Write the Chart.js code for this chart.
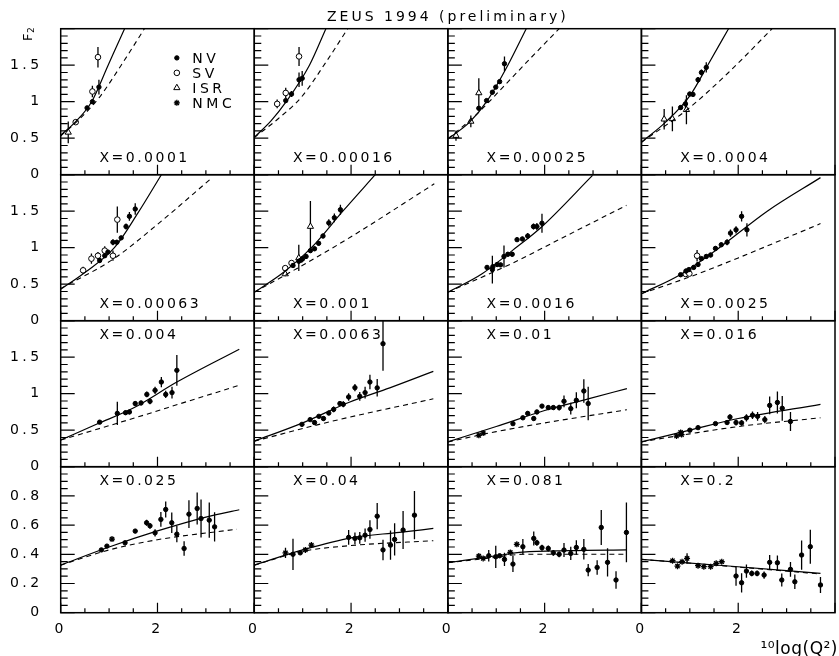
<!DOCTYPE html>
<html>
<head>
<meta charset="utf-8">
<script src="https://cdn.jsdelivr.net/npm/chart.js@4.4.1/dist/chart.umd.min.js"></script>
<style>
  html, body { margin: 0; padding: 0; background: #fff; overflow: hidden; }
  #wrap { position: relative; width: 843px; height: 656px; }
</style>
</head>
<body>
<div id="wrap"><canvas id="f2"></canvas></div>
<script>
const FONT = '"DejaVu Sans", sans-serif';

// one entry per panel, row by row (4 x 4)
const binLabels = ['X=0.0001', 'X=0.00016', 'X=0.00025', 'X=0.0004',
  'X=0.00063', 'X=0.001', 'X=0.0016', 'X=0.0025',
  'X=0.004', 'X=0.0063', 'X=0.01', 'X=0.016',
  'X=0.025', 'X=0.04', 'X=0.081', 'X=0.2'];

const rowMax = [2, 2, 2, 1];
const rowStep = [0.5, 0.5, 0.5, 0.2];
const rowMinor = [0.1, 0.1, 0.1, 0.05];
const legendNames = ['NV', 'SV', 'ISR', 'NMC'];

// points: [log10 Q2, F2, error]
const nvPoints = [
  [[0.545, 0.915, 0.03], [0.655, 1.0, 0.03], [0.79, 1.2, 0.1]],
  [[0.65, 1.015, 0.03], [0.77, 1.105, 0.04], [0.925, 1.30, 0.1], [0.99, 1.32, 0.1]],
  [[0.64, 0.91, 0.03], [0.80, 1.015, 0.03], [0.92, 1.13, 0.03], [0.99, 1.2, 0.03], [1.07, 1.275, 0.03], [1.17, 1.52, 0.1]],
  [[0.81, 0.92, 0.03], [0.91, 0.97, 0.06], [0.998, 1.105, 0.03], [1.065, 1.10, 0.03], [1.17, 1.30, 0.04], [1.24, 1.40, 0.04], [1.34, 1.47, 0.07]],
  [[0.805, 0.825, 0.03], [0.91, 0.89, 0.03], [0.976, 0.94, 0.03], [1.08, 1.075, 0.04], [1.16, 1.075, 0.03], [1.25, 1.135, 0.03], [1.35, 1.29, 0.04], [1.42, 1.43, 0.06], [1.54, 1.53, 0.08]],
  [[0.8, 0.756, 0.03], [0.92, 0.815, 0.03], [0.97, 0.83, 0.03], [1.0, 0.85, 0.03], [1.07, 0.88, 0.03], [1.16, 0.96, 0.03], [1.245, 0.985, 0.03], [1.33, 1.06, 0.03], [1.42, 1.16, 0.03], [1.54, 1.34, 0.05], [1.655, 1.41, 0.06], [1.78, 1.52, 0.07]],
  [[0.81, 0.73, 0.03], [0.92, 0.70, 0.19], [0.93, 0.74, 0.03], [1.02, 0.77, 0.03], [1.09, 0.765, 0.03], [1.16, 0.88, 0.15], [1.24, 0.91, 0.03], [1.33, 0.91, 0.03], [1.43, 1.11, 0.03], [1.54, 1.12, 0.03], [1.65, 1.16, 0.04], [1.77, 1.29, 0.04], [1.84, 1.29, 0.05], [1.945, 1.335, 0.13]],
  [[0.81, 0.63, 0.02], [0.92, 0.68, 0.03], [0.98, 0.70, 0.03], [1.08, 0.73, 0.03], [1.17, 0.77, 0.03], [1.24, 0.85, 0.03], [1.34, 0.88, 0.03], [1.43, 0.90, 0.03], [1.53, 0.99, 0.03], [1.65, 1.04, 0.03], [1.77, 1.075, 0.04], [1.84, 1.20, 0.05], [1.955, 1.245, 0.05], [2.07, 1.43, 0.07], [2.18, 1.245, 0.09]],
  [[0.805, 0.61, 0.02], [1.17, 0.73, 0.16], [1.34, 0.74, 0.03], [1.42, 0.75, 0.03], [1.54, 0.865, 0.03], [1.66, 0.873, 0.03], [1.78, 0.99, 0.04], [1.845, 0.896, 0.04], [1.95, 1.046, 0.05], [2.08, 1.16, 0.07], [2.17, 0.99, 0.05], [2.3, 1.015, 0.08], [2.4, 1.32, 0.21]],
  [[0.985, 0.58, 0.02], [1.155, 0.645, 0.02], [1.245, 0.605, 0.03], [1.335, 0.69, 0.02], [1.43, 0.66, 0.03], [1.54, 0.735, 0.03], [1.64, 0.785, 0.04], [1.77, 0.865, 0.03], [1.84, 0.855, 0.04], [1.95, 0.955, 0.05], [2.08, 1.083, 0.05], [2.18, 0.964, 0.06], [2.29, 1.015, 0.08], [2.39, 1.16, 0.1], [2.54, 1.08, 0.12], [2.66, 1.685, 0.37]],
  [[1.345, 0.59, 0.02], [1.55, 0.67, 0.02], [1.65, 0.73, 0.03], [1.775, 0.66, 0.03], [1.84, 0.75, 0.03], [1.945, 0.83, 0.03], [2.075, 0.81, 0.03], [2.18, 0.81, 0.03], [2.3, 0.81, 0.04], [2.4, 0.896, 0.08], [2.54, 0.796, 0.08], [2.655, 0.91, 0.11], [2.81, 1.037, 0.16], [2.9, 0.865, 0.23]],
  [[1.0, 0.5, 0.02], [1.17, 0.535, 0.02], [1.53, 0.59, 0.02], [1.77, 0.605, 0.03], [1.83, 0.68, 0.04], [1.955, 0.605, 0.04], [2.07, 0.6, 0.04], [2.17, 0.67, 0.05], [2.295, 0.705, 0.05], [2.4, 0.69, 0.06], [2.55, 0.645, 0.05], [2.65, 0.84, 0.12], [2.81, 0.88, 0.15], [2.91, 0.8, 0.17], [3.08, 0.62, 0.13]],
  [[0.84, 0.43, 0.01], [0.955, 0.456, 0.01], [1.33, 0.479, 0.01], [1.54, 0.559, 0.015], [1.775, 0.616, 0.02], [1.845, 0.595, 0.02], [1.95, 0.547, 0.025], [2.07, 0.639, 0.05], [2.17, 0.707, 0.055], [2.295, 0.616, 0.07], [2.4, 0.538, 0.055], [2.55, 0.44, 0.05], [2.65, 0.675, 0.095], [2.82, 0.714, 0.11], [2.9, 0.645, 0.13], [3.07, 0.634, 0.12], [3.18, 0.588, 0.1]],
  [[0.8, 0.4, 0.107], [0.95, 0.41, 0.01], [1.95, 0.516, 0.05], [2.08, 0.509, 0.04], [2.18, 0.513, 0.04], [2.29, 0.531, 0.045], [2.39, 0.57, 0.063], [2.54, 0.661, 0.09], [2.66, 0.43, 0.07], [2.815, 0.463, 0.1], [2.9, 0.502, 0.11], [3.075, 0.566, 0.13], [3.31, 0.668, 0.165]],
  [[0.845, 0.39, 0.04], [0.99, 0.383, 0.076], [1.07, 0.39, 0.01], [1.17, 0.365, 0.045], [1.345, 0.333, 0.055], [1.55, 0.452, 0.053], [1.775, 0.509, 0.048], [1.84, 0.479, 0.02], [1.945, 0.445, 0.02], [2.075, 0.44, 0.02], [2.18, 0.41, 0.02], [2.3, 0.40, 0.02], [2.4, 0.429, 0.048], [2.54, 0.406, 0.045], [2.655, 0.447, 0.05], [2.81, 0.434, 0.07], [2.9, 0.292, 0.042], [3.085, 0.31, 0.05], [3.17, 0.584, 0.12], [3.3, 0.345, 0.097], [3.475, 0.224, 0.06], [3.69, 0.55, 0.205]],
  [[1.955, 0.251, 0.066], [2.07, 0.205, 0.066], [2.17, 0.285, 0.045], [2.28, 0.269, 0.02], [2.39, 0.269, 0.02], [2.535, 0.258, 0.025], [2.65, 0.345, 0.05], [2.81, 0.342, 0.05], [2.9, 0.224, 0.045], [3.08, 0.297, 0.05], [3.17, 0.212, 0.05], [3.31, 0.395, 0.1], [3.49, 0.452, 0.117], [3.7, 0.19, 0.055]]
];

const svPoints = [
  [[0.31, 0.72, 0.04], [0.655, 1.14, 0.08], [0.77, 1.61, 0.14]],
  [[0.473, 0.97, 0.06], [0.65, 1.12, 0.07], [0.925, 1.62, 0.13]],
  [], [],
  [[0.463, 0.69, 0.05], [0.635, 0.85, 0.07], [0.77, 0.89, 0.05], [0.91, 0.96, 0.06], [1.08, 0.89, 0.07], [1.17, 1.385, 0.18]],
  [[0.64, 0.72, 0.03], [0.77, 0.79, 0.03]],
  [],
  [[0.915, 0.64, 0.03], [0.99, 0.645, 0.03], [1.15, 0.89, 0.08]],
  [], [], [], [], [], [], [], []
];

const isrPoints = [
  [[0.156, 0.58, 0.15]],
  [],
  [[0.168, 0.536, 0.07], [0.475, 0.73, 0.08], [0.64, 1.12, 0.2]],
  [[0.47, 0.76, 0.14], [0.64, 0.765, 0.17], [0.93, 0.89, 0.2]],
  [],
  [[0.64, 0.64, 0.03], [0.92, 0.86, 0.18], [1.16, 1.29, 0.35]],
  [], [], [], [], [], [], [], [], [], []
];

const nmcPoints = [
  [], [], [], [], [], [], [], [], [], [],
  [[0.64, 0.43, 0.02], [0.73, 0.46, 0.02]],
  [[0.725, 0.42, 0.02], [0.81, 0.47, 0.02], [0.83, 0.44, 0.02]],
  [[1.06, 0.504, 0.01]],
  [[0.645, 0.41, 0.035], [1.055, 0.43, 0.01], [1.18, 0.463, 0.01]],
  [[0.64, 0.388, 0.01], [0.73, 0.372, 0.01], [1.29, 0.413, 0.01], [1.425, 0.468, 0.01]],
  [[0.643, 0.356, 0.01], [0.745, 0.319, 0.01], [0.84, 0.349, 0.01], [0.943, 0.372, 0.035], [1.17, 0.322, 0.01], [1.29, 0.315, 0.01], [1.43, 0.315, 0.01], [1.545, 0.338, 0.01], [1.66, 0.349, 0.01]]
];

// QCD fit curves: [log10 Q2, F2]
const solidCurves = [
  [[0, 0.54], [0.3, 0.72], [0.64, 1.0], [0.98, 1.5], [1.32, 2.0]],
  [[0, 0.51], [0.35, 0.74], [0.66, 1.0], [1.14, 1.5], [1.48, 2.0]],
  [[0, 0.49], [0.45, 0.72], [0.8, 1.0], [1.24, 1.5], [1.62, 2.0]],
  [[0, 0.445], [0.5, 0.72], [1.0, 1.08], [1.37, 1.5], [1.8, 2.0]],
  [[0, 0.43], [0.5, 0.66], [1.11, 1.0], [1.6, 1.48], [2.08, 2.0]],
  [[0, 0.39], [0.6, 0.66], [1.18, 1.0], [1.83, 1.5], [2.5, 2.0]],
  [[0, 0.39], [0.7, 0.64], [1.33, 0.96], [1.93, 1.28], [2.99, 1.99]],
  [[0, 0.37], [0.8, 0.63], [1.61, 1.0], [2.6, 1.5], [3.7, 1.96]],
  [[0, 0.365], [0.75, 0.585], [1.49, 0.8], [2.4, 1.16], [3.69, 1.61]],
  [[0, 0.35], [1.0, 0.6], [1.95, 0.88], [2.8, 1.08], [3.7, 1.306]],
  [[0, 0.34], [1.0, 0.55], [2.0, 0.77], [2.9, 0.93], [3.7, 1.07]],
  [[0, 0.34], [1.0, 0.5], [2.0, 0.66], [3.7, 0.855]],
  [[0, 0.326], [1.0, 0.45], [2.0, 0.56], [3.0, 0.655], [3.69, 0.705]],
  [[0, 0.326], [1.0, 0.43], [2.0, 0.513], [3.0, 0.55], [3.7, 0.577]],
  [[0, 0.342], [1.0, 0.39], [1.55, 0.415], [2.5, 0.425], [3.7, 0.43]],
  [[0, 0.365], [1.8, 0.32], [3.7, 0.27]]
];

const dashedCurves = [
  [[0, 0.53], [0.4, 0.77], [0.8, 1.06], [1.25, 1.5], [1.73, 2.0]],
  [[0, 0.51], [0.5, 0.77], [0.97, 1.06], [1.5, 1.56], [1.93, 2.0]],
  [[0, 0.49], [0.6, 0.83], [1.14, 1.2], [1.7, 1.59], [2.3, 2.0]],
  [[0, 0.445], [0.96, 0.9], [1.8, 1.4], [2.7, 2.0]],
  [[0, 0.44], [1.1, 0.85], [2.0, 1.32], [3.13, 1.96]],
  [[0, 0.39], [1.0, 0.76], [2.0, 1.15], [3.72, 1.875]],
  [[0, 0.39], [1.34, 0.79], [2.5, 1.18], [3.69, 1.58]],
  [[0, 0.37], [1.0, 0.6], [2.0, 0.86], [3.7, 1.33]],
  [[0, 0.365], [1.49, 0.66], [2.6, 0.89], [3.69, 1.115]],
  [[0, 0.35], [1.59, 0.62], [3.7, 0.93]],
  [[0, 0.34], [1.0, 0.48], [2.0, 0.6], [3.7, 0.78]],
  [[0, 0.34], [1.0, 0.45], [2.0, 0.55], [3.7, 0.67]],
  [[0, 0.326], [1.0, 0.43], [2.0, 0.5], [3.64, 0.572]],
  [[0, 0.326], [1.0, 0.42], [2.0, 0.46], [3.7, 0.493]],
  [[0, 0.342], [1.0, 0.38], [1.55, 0.4], [2.5, 0.4], [3.7, 0.4]],
  [[0, 0.365], [1.8, 0.318], [3.7, 0.265]]
];

const markerStyle = {
  NV: {pointStyle: 'circle', radius: 2.2, fill: '#000'},
  SV: {pointStyle: 'circle', radius: 2.8, fill: '#fff'},
  ISR: {pointStyle: 'triangle', radius: 3.6, fill: '#fff'},
  NMC: {pointStyle: 'star', radius: 3, fill: '#000'}
};

const datasets = [];
for (let p = 0; p < 16; p++) {
  const r = Math.floor(p / 4), c = p % 4;
  const ids = {xAxisID: 'x' + c, yAxisID: 'y' + r};
  datasets.push({...ids, data: solidCurves[p].map(([x, y]) => ({x, y})), showLine: true, pointRadius: 0,
    borderColor: '#000', borderWidth: 1.2, cubicInterpolationMode: 'monotone'});
  datasets.push({...ids, data: dashedCurves[p].map(([x, y]) => ({x, y})), showLine: true, pointRadius: 0,
    borderColor: '#000', borderWidth: 1.1, borderDash: [5, 4], cubicInterpolationMode: 'monotone'});
  [['NV', nvPoints], ['SV', svPoints], ['ISR', isrPoints], ['NMC', nmcPoints]].forEach(([name, arr]) => {
    const pts = arr[p];
    if (!pts.length) return;
    const st = markerStyle[name];
    datasets.push({...ids, label: name, errorBars: true, showLine: false,
      data: pts.map(([x, y, e]) => ({x, y, e})),
      pointStyle: st.pointStyle, pointRadius: st.radius, pointBackgroundColor: st.fill,
      pointBorderColor: '#000', pointBorderWidth: name === 'NMC' ? 1.3 : 1});
  });
}

const tickFont = {family: FONT, size: 14};
const scales = {};
for (let c = 0; c < 4; c++) {
  scales['x' + c] = {
    type: 'linear', axis: 'x', position: 'bottom', stack: 'cols', stackWeight: 1,
    min: 0, max: 4,
    grid: {display: false, drawTicks: false}, border: {display: false},
    ticks: {stepSize: 2, autoSkip: false, maxRotation: 0, padding: 8, color: '#000', font: tickFont,
      callback: v => (v < 4 ? String(v) : '')},
    afterFit: s => { s.height = 43.3; }
  };
}
for (let r = 0; r < 4; r++) {
  scales['y' + r] = {
    type: 'linear', axis: 'y', position: 'left', stack: 'rows', stackWeight: 1, weight: 4 - r,
    min: 0, max: rowMax[r],
    grid: {display: false, drawTicks: false}, border: {display: false},
    ticks: {stepSize: rowStep[r], autoSkip: false, padding: 18, color: '#000', font: tickFont,
      callback: v => (v < rowMax[r] - 1e-9 ? String(+v.toFixed(1)) : '')},
    afterFit: s => { s.width = 60.7; }
  };
}

// clip each panel's datasets to its own box, and draw error bars under the markers
const panelClip = {
  id: 'panelClip',
  beforeDatasetDraw(chart, args) {
    const ctx = chart.ctx, xs = args.meta.xScale, ys = args.meta.yScale;
    ctx.save();
    ctx.beginPath();
    ctx.rect(xs.left, ys.top, xs.width, ys.height);
    ctx.clip();
    const ds = chart.data.datasets[args.index];
    if (ds.errorBars) {
      ctx.strokeStyle = '#000';
      ctx.lineWidth = 1.3;
      ctx.beginPath();
      ds.data.forEach(pt => {
        if (!pt.e) return;
        const px = xs.getPixelForValue(pt.x);
        ctx.moveTo(px, ys.getPixelForValue(pt.y - pt.e));
        ctx.lineTo(px, ys.getPixelForValue(pt.y + pt.e));
      });
      ctx.stroke();
    }
  },
  afterDatasetDraw(chart) {
    chart.ctx.restore();
  }
};

// panel frames with inward ticks
const panelFrames = {
  id: 'panelFrames',
  afterDatasetsDraw(chart) {
    const ctx = chart.ctx;
    ctx.save();
    ctx.strokeStyle = '#000';
    for (let r = 0; r < 4; r++) {
      const ys = chart.scales['y' + r];
      for (let c = 0; c < 4; c++) {
        const xs = chart.scales['x' + c];
        ctx.lineWidth = 1.5;
        ctx.strokeRect(xs.left, ys.top, xs.right - xs.left, ys.bottom - ys.top);
        ctx.lineWidth = 1.2;
        ctx.beginPath();
        const ratio = Math.round(rowStep[r] / rowMinor[r]);
        for (let k = 0; k * rowMinor[r] <= rowMax[r] + 1e-9; k++) {
          const py = ys.getPixelForValue(k * rowMinor[r]);
          ctx.moveTo(xs.left, py);
          ctx.lineTo(xs.left + (k % ratio === 0 ? 14 : 7), py);
        }
        for (let k = 0; k <= 8; k++) {
          const px = xs.getPixelForValue(k * 0.5);
          ctx.moveTo(px, ys.bottom);
          ctx.lineTo(px, ys.bottom - (k % 4 === 0 ? 10 : 4.5));
        }
        ctx.stroke();
      }
    }
    ctx.restore();
  }
};

const labelY = [0.18, 0.18, 1.75, 0.873];

const zeusText = {
  id: 'zeusText',
  beforeDraw(chart) {
    chart.ctx.letterSpacing = '3.5px';
  },
  afterDraw(chart) {
    const ctx = chart.ctx, a = chart.chartArea;
    ctx.save();
    ctx.fillStyle = '#000';
    ctx.strokeStyle = '#000';
    ctx.textBaseline = 'alphabetic';

    ctx.font = `14px ${FONT}`;
    ctx.letterSpacing = '3px';
    ctx.textAlign = 'center';
    ctx.fillText('ZEUS 1994 (preliminary)', (a.left + a.right) / 2, 20.7);

    ctx.letterSpacing = '2.5px';
    ctx.textAlign = 'left';
    for (let p = 0; p < 16; p++) {
      const r = Math.floor(p / 4), c = p % 4;
      const xs = chart.scales['x' + c], ys = chart.scales['y' + r];
      ctx.fillText(binLabels[p], xs.getPixelForValue(0.8), ys.getPixelForValue(labelY[r]));
    }

    // legend in the first panel
    const xs0 = chart.scales.x0, ys0 = chart.scales.y0;
    const sx = xs0.getPixelForValue(2.4), tx = xs0.getPixelForValue(2.72);
    ctx.letterSpacing = '3.5px';
    legendNames.forEach((name, i) => {
      const sy = ys0.getPixelForValue(1.6 - i * 0.205);
      const st = markerStyle[name];
      ctx.lineWidth = name === 'NMC' ? 1.3 : 1;
      ctx.fillStyle = st.fill;
      Chart.helpers.drawPoint(ctx, {pointStyle: st.pointStyle, radius: st.radius, borderWidth: 1}, sx, sy);
      ctx.fillStyle = '#000';
      ctx.fillText(name, tx, sy + 5);
    });

    // F2 label, rotated
    ctx.save();
    ctx.translate(31.5, 41);
    ctx.rotate(-Math.PI / 2);
    ctx.letterSpacing = '0px';
    ctx.font = `13px ${FONT}`;
    ctx.fillText('F', 0, 0);
    const fw = ctx.measureText('F').width;
    ctx.font = `9px ${FONT}`;
    ctx.fillText('2', fw + 0.5, 2.5);
    ctx.restore();

    // axis label bottom right
    ctx.font = `17px ${FONT}`;
    ctx.letterSpacing = '0.5px';
    ctx.textAlign = 'right';
    ctx.fillText('\u00B9\u2070log(Q\u00B2)', 838, 654);
    ctx.restore();
  }
};

new Chart(document.getElementById('f2'), {
  type: 'scatter',
  data: {datasets},
  options: {
    responsive: true,
    maintainAspectRatio: false,
    animation: false,
    events: [],
    layout: {padding: {top: 28.7, right: 1.5, bottom: 0, left: 0}},
    plugins: {legend: {display: false}, tooltip: {enabled: false}},
    scales
  },
  plugins: [panelClip, panelFrames, zeusText]
});
</script>
</body>
</html>
